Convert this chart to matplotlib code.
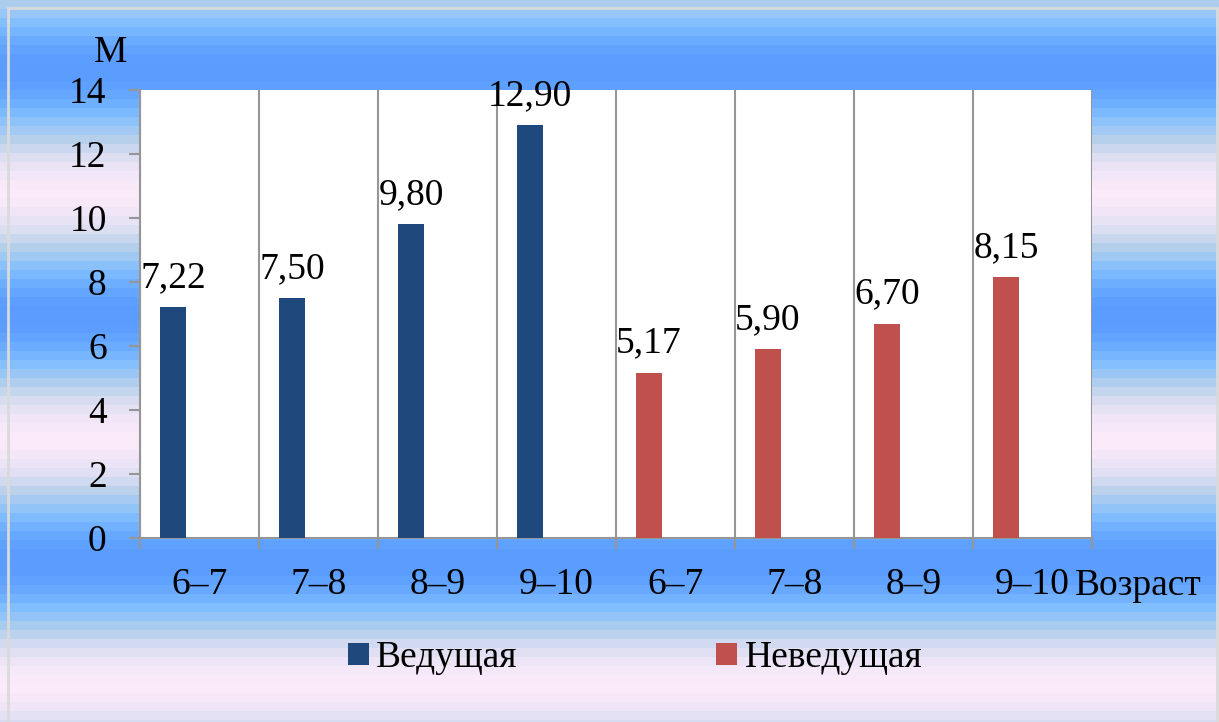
import numpy as np
import matplotlib
matplotlib.use('Agg')
import matplotlib.pyplot as plt
from matplotlib.colors import LinearSegmentedColormap
from matplotlib.patches import Rectangle

plt.rcParams['font.family'] = ['Liberation Serif', 'DejaVu Serif']
FS = 27
plt.rcParams['font.size'] = FS

C_LEAD, C_NONLEAD, C_GRID = '#1f497d', '#c0504d', '#969696'

age_groups = ['6–7', '7–8', '8–9', '9–10']
lead_vals = [7.22, 7.50, 9.80, 12.90]
nonlead_vals = [5.17, 5.90, 6.70, 8.15]
series_names = ['Ведущая', 'Неведущая']

W, H = 1219, 722
fig = plt.figure(figsize=(W / 100, H / 100), dpi=100)

# striped blue/pink background
bg = fig.add_axes([0, 0, 1, 1], zorder=-10)
bg.set_axis_off()
rows = np.arange(H)
band = (rows // 9) * 9 + 4.5
t = (1 - np.cos(2 * np.pi * (band - 70) / 246)) / 2
cmap = LinearSegmentedColormap.from_list('bgband', [
    (0.0, (90/255, 156/255, 255/255)),
    (0.3, (128/255, 190/255, 255/255)),
    (0.6, (182/255, 208/255, 236/255)),
    (0.8, (220/255, 222/255, 242/255)),
    (1.0, (250/255, 234/255, 250/255)),
])
bg.imshow(t[:, None], aspect='auto', cmap=cmap, vmin=0, vmax=1,
          extent=[0, 1, 0, 1], origin='upper')
bg.add_patch(Rectangle((8 / W, -0.01), (1217 - 8) / W, 1.01 - 8 / H,
                       transform=bg.transAxes, fill=False,
                       edgecolor='#dadada', lw=2))

ax = fig.add_axes([140 / W, (H - 538) / H, 952 / W, 448 / H])
ax.set_facecolor('white')

n = len(age_groups)
x_lead = np.arange(n)
x_non = np.arange(n, 2 * n)
off, bw = -0.223, 0.218
b1 = ax.bar(x_lead + off, lead_vals, bw, color=C_LEAD, zorder=3,
            label=series_names[0])
b2 = ax.bar(x_non + off, nonlead_vals, bw, color=C_NONLEAD, zorder=3,
            label=series_names[1])

for bars, vals in ((b1, lead_vals), (b2, nonlead_vals)):
    for b, v in zip(bars, vals):
        ax.annotate(f'{v:.2f}'.replace('.', ','),
                    (b.get_x() + b.get_width() / 2, v),
                    xytext=(0, 14.5), textcoords='offset points',
                    ha='center', va='baseline', fontsize=FS,
                    annotation_clip=False, zorder=5)

ax.set_xlim(-0.5, 2 * n - 0.5)
ax.set_ylim(0, 14)
ax.set_yticks(np.arange(0, 15, 2))
ax.set_xticks(np.arange(2 * n))
ax.set_xticklabels(age_groups * 2)
ax.set_xticks(np.arange(2 * n + 1) - 0.5, minor=True)
ax.tick_params(axis='x', which='major', length=0, pad=21, labelsize=FS)
ax.tick_params(axis='x', which='minor', length=8, width=1.5,
               color=C_GRID, direction='out')
ax.tick_params(axis='y', length=8, width=1.5, color=C_GRID,
               pad=16, labelsize=FS)
ax.grid(axis='x', which='minor', color=C_GRID, lw=1.5, zorder=1)
for s in ('top', 'right'):
    ax.spines[s].set_visible(False)
for s in ('left', 'bottom'):
    ax.spines[s].set_color(C_GRID)
    ax.spines[s].set_linewidth(1.5)

fig.text(127 / W, 1 - 62 / H, 'М', ha='right', va='baseline', fontsize=FS)
fig.text(1075 / W, 1 - 595 / H, 'Возраст', ha='left', va='baseline',
         fontsize=FS)

fig.legend(handles=[b1, b2], loc='center left',
           bbox_to_anchor=(348 / W, 1 - 658 / H), ncol=2, frameon=False,
           fontsize=FS, handlelength=0.55, handleheight=0.55,
           handletextpad=0.2, columnspacing=5.3, borderpad=0,
           borderaxespad=0)

fig.savefig('out.png', dpi=100)
